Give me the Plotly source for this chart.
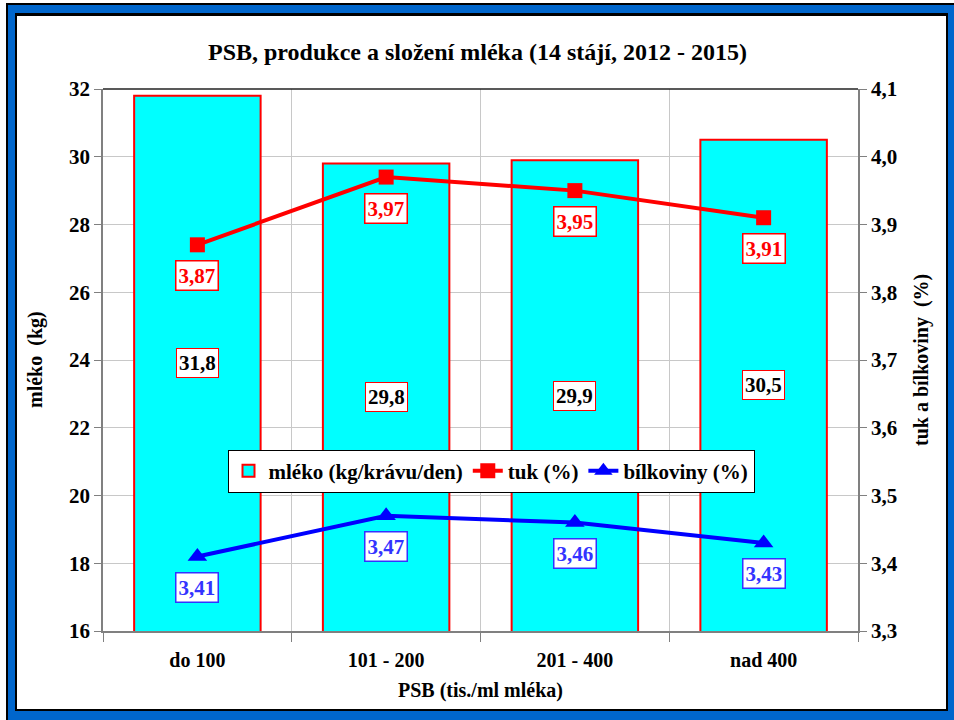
import plotly.graph_objects as go

categories = ["do 100", "101 - 200", "201 - 400", "nad 400"]
mleko = [31.8, 29.8, 29.9, 30.5]
tuk = [3.87, 3.97, 3.95, 3.91]
bilkoviny = [3.41, 3.47, 3.46, 3.43]
y_left_ticks = [16, 18, 20, 22, 24, 26, 28, 30, 32]
y_right_ticks = [3.3, 3.4, 3.5, 3.6, 3.7, 3.8, 3.9, 4.0, 4.1]

FONT = "Liberation Serif, Times New Roman, serif"
W, H = 954, 720
L, R, T, B = 103, 858, 89, 631  # plot area pixels
PW, PH = R - L, B - T


def px(x):
    return (x - L) / PW


def py(y):
    return (B - y) / PH


def fmt(v, d):
    return f"{v:.{d}f}".replace(".", ",")


def bold(s):
    return "<b>" + s + "</b>"


fig = go.Figure()
fig.add_trace(go.Bar(
    x=categories, y=mleko, name="mléko (kg/krávu/den)",
    marker=dict(color="#00FFFF", line=dict(color="#FF0000", width=2)),
    width=0.67, yaxis="y",
))
fig.add_trace(go.Scatter(
    x=categories, y=tuk, name="tuk (%)", yaxis="y2", mode="lines+markers",
    line=dict(color="#FF0000", width=4),
    marker=dict(symbol="square", size=15, color="#FF0000"),
))
fig.add_trace(go.Scatter(
    x=categories, y=bilkoviny, name="bílkoviny (%)", yaxis="y2", mode="lines+markers",
    line=dict(color="#0000FF", width=4),
    marker=dict(symbol="triangle-up", size=17, color="#0000FF"),
))

ymin = y_left_ticks[0]
annotations = []
for c, v in zip(categories, mleko):
    annotations.append(dict(
        x=c, y=(ymin + v) / 2, xref="x", yref="y", text=bold(fmt(v, 1)), showarrow=False,
        font=dict(family=FONT, size=21, color="black"), bgcolor="white",
        bordercolor="#FF0000", borderwidth=1, borderpad=2,
    ))
for c, v in zip(categories, tuk):
    annotations.append(dict(
        x=c, y=v, xref="x", yref="y2", text=bold(fmt(v, 2)), showarrow=False, yshift=-31,
        font=dict(family=FONT, size=21, color="#FF0000"), bgcolor="white",
        bordercolor="#FF0000", borderwidth=1.5, borderpad=2,
    ))
for c, v in zip(categories, bilkoviny):
    annotations.append(dict(
        x=c, y=v, xref="x", yref="y2", text=bold(fmt(v, 2)), showarrow=False, yshift=-31,
        font=dict(family=FONT, size=21, color="#3333FF"), bgcolor="white",
        bordercolor="#3333FF", borderwidth=1.5, borderpad=2,
    ))

annotations.append(dict(
    x=px(477), y=py(52), xref="paper", yref="paper", showarrow=False,
    text=bold("PSB, produkce a složení mléka (14 stájí, 2012 - 2015)"),
    font=dict(family=FONT, size=24, color="black"), xanchor="center", yanchor="middle",
))
annotations.append(dict(
    x=px(480), y=py(690), xref="paper", yref="paper", showarrow=False,
    text=bold("PSB (tis./ml mléka)"),
    font=dict(family=FONT, size=20, color="black"), xanchor="center", yanchor="middle",
))
annotations.append(dict(
    x=px(35), y=py(360), xref="paper", yref="paper", showarrow=False, textangle=-90,
    text=bold("mléko  (kg)"),
    font=dict(family=FONT, size=20, color="black"), xanchor="center", yanchor="middle",
))
annotations.append(dict(
    x=px(921), y=py(360), xref="paper", yref="paper", showarrow=False, textangle=-90,
    text=bold("tuk a bílkoviny  (%)"),
    font=dict(family=FONT, size=20, color="black"), xanchor="center", yanchor="middle",
))

shapes = [
    dict(type="rect", xref="paper", yref="paper", x0=px(6), x1=px(970), y0=py(3), y1=py(740),
         fillcolor="#000000", line=dict(width=0), layer="below"),
    dict(type="rect", xref="paper", yref="paper", x0=px(8), x1=px(970), y0=py(5), y1=py(740),
         fillcolor="#0066CC", line=dict(width=0), layer="below"),
    dict(type="rect", xref="paper", yref="paper", x0=px(15), x1=px(948), y0=py(13), y1=py(711),
         fillcolor="#000000", line=dict(width=0), layer="below"),
    dict(type="rect", xref="paper", yref="paper", x0=px(17), x1=px(946), y0=py(16), y1=py(709),
         fillcolor="#FFFFFF", line=dict(width=0), layer="below"),
    dict(type="line", xref="paper", yref="paper", x0=0, x1=1, y0=1, y1=1,
         line=dict(color="#222222", width=1.5), layer="above"),
]

fig.update_layout(
    width=W, height=H,
    margin=dict(l=L, r=W - R, t=T, b=H - B, pad=0),
    paper_bgcolor="white", plot_bgcolor="rgba(0,0,0,0)",
    font=dict(family=FONT),
    showlegend=True,
    legend=dict(
        orientation="h", x=px(491), y=py(471), xanchor="center", yanchor="middle",
        bgcolor="white", bordercolor="black", borderwidth=1,
        font=dict(family=FONT, size=21, color="black", weight="bold"),
        itemwidth=30, tracegroupgap=0,
    ),
    xaxis=dict(
        type="category", range=[-0.5, 3.5], tickson="boundaries",
        tickvals=categories, ticktext=[bold(c) for c in categories],
        showgrid=True, gridcolor="#C8C8C8", gridwidth=1,
        showline=True, linecolor="#808080", linewidth=1.5,
        ticks="outside", ticklen=9, tickcolor="#808080",
        ticklabelstandoff=10,
        tickfont=dict(family=FONT, size=20, color="black"),
        fixedrange=True,
    ),
    yaxis=dict(
        range=[16, 32], tickvals=y_left_ticks, ticktext=[bold(str(v)) for v in y_left_ticks],
        showgrid=True, gridcolor="#C8C8C8", gridwidth=1,
        showline=True, linecolor="#808080", linewidth=1.5,
        ticks="outside", ticklen=7, tickcolor="#808080",
        tickfont=dict(family=FONT, size=21, color="black"),
        zeroline=False,
    ),
    yaxis2=dict(
        range=[3.3, 4.1], overlaying="y", side="right",
        tickvals=y_right_ticks, ticktext=[bold(fmt(v, 1)) for v in y_right_ticks],
        showgrid=False, showline=True, linecolor="#808080", linewidth=1.5,
        ticks="outside", ticklen=7, tickcolor="#808080",
        tickfont=dict(family=FONT, size=21, color="black"),
        zeroline=False,
    ),
    annotations=annotations,
    shapes=shapes,
)

fig.write_html(
    "out.html",
    config={"displayModeBar": False},
    post_script="document.body.style.margin='0';document.body.style.padding='0';",
)
